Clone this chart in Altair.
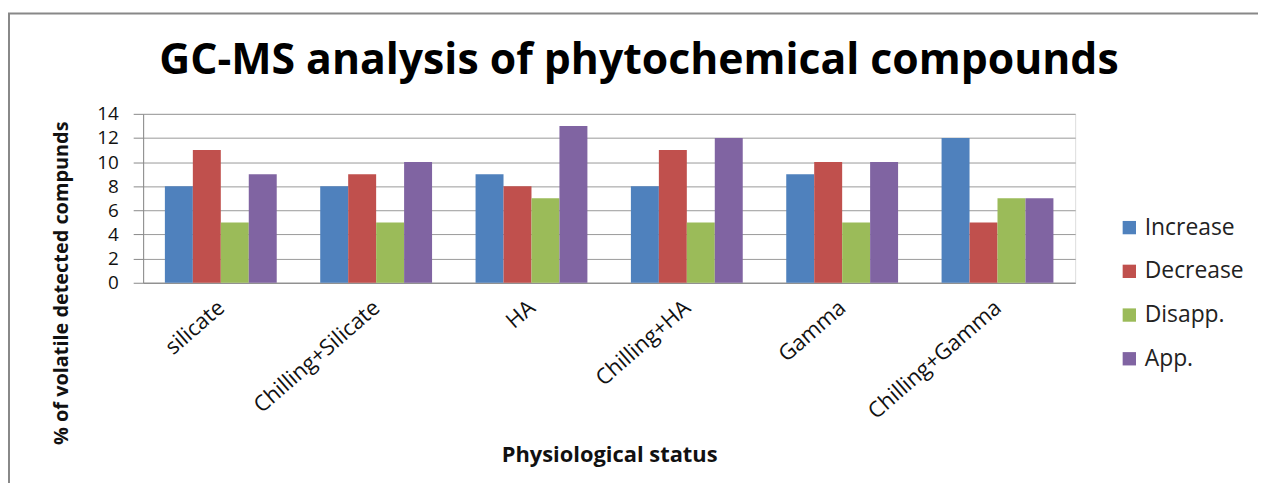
import altair as alt
import pandas as pd

categories = ["silicate", "Chilling+Silicate", "HA", "Chilling+HA", "Gamma", "Chilling+Gamma"]
series = ["Increase", "Decrease", "Disapp.", "App."]
increase = [8, 8, 9, 8, 9, 12]
decrease = [11, 9, 8, 11, 10, 5]
disapp = [5, 5, 7, 5, 5, 7]
app = [9, 10, 13, 12, 10, 7]
colors = ["#4F81BD", "#C0504D", "#9BBB59", "#8064A2"]
y_ticks = [0, 2, 4, 6, 8, 10, 12, 14]
title_text = "GC-MS analysis of phytochemical compounds"

rows = []
for vals, s in zip([increase, decrease, disapp, app], series):
    for c, v in zip(categories, vals):
        rows.append({"category": c, "series": s, "value": v})
df = pd.DataFrame(rows)

FONT = "Open Sans"

bars = alt.Chart(df).mark_bar().encode(
    x=alt.X("category:N", sort=categories,
            scale=alt.Scale(paddingInner=0.28, paddingOuter=0.14),
            axis=alt.Axis(title="Physiological status", labelAngle=-41, labelFontSize=22,
                          labelAlign="right", labelBaseline="top",
                          labelFont=FONT, labelColor="#111", ticks=False,
                          domainColor="#888", labelPadding=14, labelOffset=-6,
                          titleFont=FONT, titleFontSize=22, titleFontWeight="bold",
                          titleColor="#111", titleY=173, titleBaseline="middle",
                          titlePadding=0)),
    xOffset=alt.XOffset("series:N", sort=series),
    y=alt.Y("value:Q", scale=alt.Scale(domain=[0, 14]),
            axis=alt.Axis(title="% of volatile detected compunds", values=y_ticks,
                          labelFontSize=19, labelFont=FONT, labelColor="#111",
                          tickSize=10, tickColor="#888", domainColor="#888",
                          gridColor="#999", labelPadding=15,
                          titleFont=FONT, titleFontSize=20, titleFontWeight="bold",
                          titleColor="#111", titleX=-82, titleY=170, titleAngle=-90,
                          titleAlign="center", titleBaseline="middle")),
    color=alt.Color("series:N", sort=series,
                    scale=alt.Scale(domain=series, range=colors),
                    legend=alt.Legend(title=None, orient="none", legendX=981, legendY=103,
                                      symbolType="square", symbolSize=180,
                                      symbolStrokeWidth=0, labelFontSize=23,
                                      labelFont=FONT, labelColor="#222",
                                      rowPadding=20, labelOffset=4)),
)

border = alt.Chart(pd.DataFrame({"a": [0]})).mark_rect(
    fill=None, stroke="#888", strokeWidth=2, clip=False
).encode(x=alt.value(-135), x2=alt.value(1300), y=alt.value(-101), y2=alt.value(500))

title = alt.Chart(pd.DataFrame({"t": [title_text]})).mark_text(
    font=FONT, fontSize=43, fontWeight="bold", color="#000",
    align="center", baseline="alphabetic"
).encode(text="t:N", x=alt.value(499), y=alt.value(-40))

chart = alt.layer(border, bars, title).properties(
    width=938, height=170,
    autosize=alt.AutoSizeParams(type="none"),
    padding={"left": 136, "top": 105, "right": 184, "bottom": 200},
).configure_view(stroke=None).configure(background="white")

chart.save("out.html", embed_options={"renderer": "svg", "actions": False})
